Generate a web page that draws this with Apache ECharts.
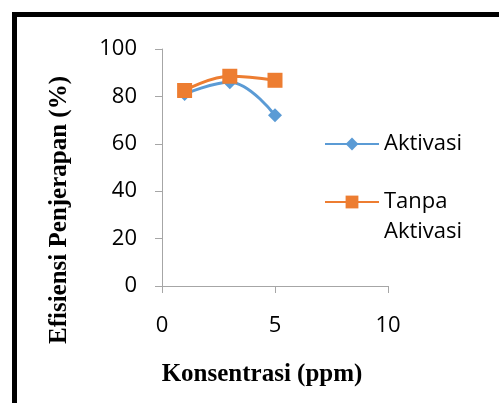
<!DOCTYPE html>
<html lang="en">
  <head>
    <meta charset="UTF-8" />
    <title>Efisiensi Penjerapan</title>
    <script src="https://cdn.jsdelivr.net/npm/echarts@6/dist/echarts.min.js"></script>
    <style>
      * { margin: 0; padding: 0; box-sizing: border-box; }
      body { background: #fff; overflow: hidden; }
      #chart { width: 499px; height: 403px; }
    </style>
  </head>
  <body>
    <div id="chart"></div>
    <script>
      // data
      const konsentrasi = [1, 3, 5];
      const aktivasi = [81, 86, 72];
      const tanpaAktivasi = [82.5, 88.5, 86.8];
      const xTicks = [0, 5, 10];
      const yTicks = [0, 20, 40, 60, 80, 100];

      const blue = "#5B9BD5";
      const orange = "#ED7D31";
      const axisGray = "#A6A6A6";
      const tickFont = { fontFamily: "Open Sans", fontSize: 22, color: "#000" };
      const titleFont = {
        fontFamily: "Liberation Serif",
        fontWeight: "bold",
        fontSize: 25,
        color: "#000",
      };

      const myChart = echarts.init(document.getElementById("chart"));

      const option = {
        animation: false,
        grid: { left: 162, right: 111, top: 49, bottom: 117 },
        xAxis: {
          type: "value",
          min: xTicks[0],
          max: xTicks[xTicks.length - 1],
          interval: 5,
          name: "Konsentrasi (ppm)",
          nameLocation: "middle",
          nameGap: 76,
          nameTextStyle: Object.assign({}, titleFont, { padding: [0, 26, 0, 0] }),
          axisLine: { lineStyle: { color: axisGray, width: 1 } },
          axisTick: { show: true, length: 7, lineStyle: { color: axisGray } },
          axisLabel: Object.assign({ margin: 29 }, tickFont),
          splitLine: { show: false },
        },
        yAxis: {
          type: "value",
          min: yTicks[0],
          max: yTicks[yTicks.length - 1],
          interval: 20,
          name: "Efisiensi Penjerapan (%)",
          nameLocation: "middle",
          nameGap: 90,
          nameTextStyle: Object.assign({}, titleFont, { padding: [0, 85, 0, 0] }),
          axisLine: { show: true, lineStyle: { color: axisGray, width: 1 } },
          axisTick: { show: true, length: 7, lineStyle: { color: axisGray } },
          axisLabel: Object.assign({ margin: 25 }, tickFont),
          splitLine: { show: false },
        },
        legend: [
          {
            data: ["Aktivasi"],
            left: 324,
            top: 129,
            padding: 0,
            itemWidth: 54,
            itemHeight: 16,
            textStyle: Object.assign({ lineHeight: 30 }, tickFont),
          },
          {
            // blank first line so "Tanpa" sits level with the icon
            data: ["Tanpa Aktivasi"],
            left: 324,
            top: 157,
            padding: 0,
            itemWidth: 54,
            itemHeight: 16,
            formatter: () => " \nTanpa\nAktivasi",
            textStyle: Object.assign({ lineHeight: 30 }, tickFont),
          },
        ],
        series: [
          {
            name: "Aktivasi",
            type: "line",
            smooth: 0.4,
            symbol: "diamond",
            symbolSize: 14,
            data: konsentrasi.map((x, i) => [x, aktivasi[i]]),
            itemStyle: { color: blue },
            lineStyle: { color: blue, width: 3 },
          },
          {
            name: "Tanpa Aktivasi",
            type: "line",
            smooth: 0.4,
            symbol: "rect",
            symbolSize: 15,
            data: konsentrasi.map((x, i) => [x, tanpaAktivasi[i]]),
            itemStyle: { color: orange },
            lineStyle: { color: orange, width: 3 },
          },
        ],
        // black frame (top and left edges only are visible)
        graphic: [
          { type: "rect", shape: { x: 12, y: 12, width: 487, height: 5 }, style: { fill: "#000" } },
          { type: "rect", shape: { x: 12, y: 12, width: 5, height: 391 }, style: { fill: "#000" } },
        ],
      };

      myChart.setOption(option);
    </script>
  </body>
</html>
